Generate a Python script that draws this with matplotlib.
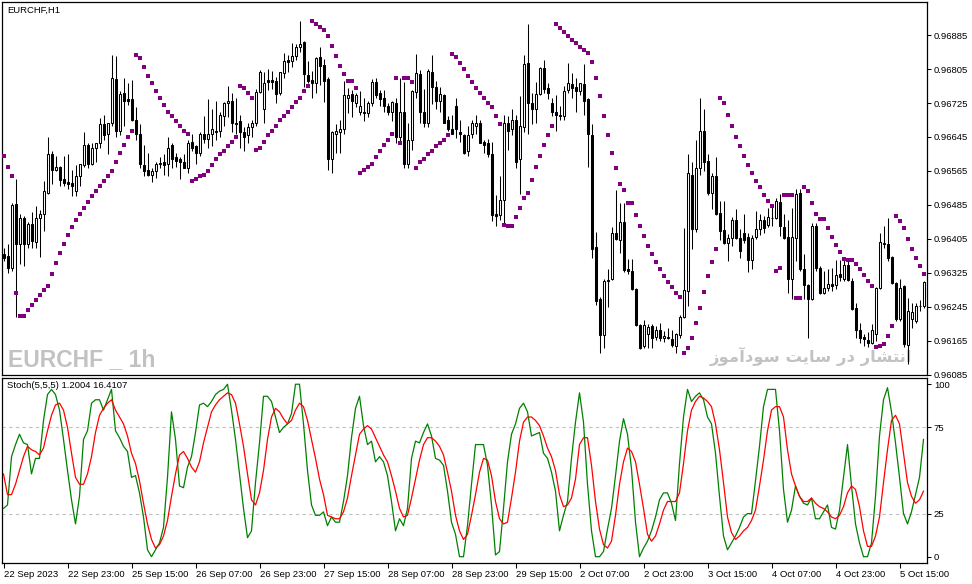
import matplotlib
matplotlib.use("Agg")
import matplotlib.pyplot as plt
from matplotlib import font_manager as fm
import numpy as np

# ---------------- data (prices in points: price * 1e5) ----------------
opens = [
    96369, 96365, 96336, 96488, 96393, 96455, 96393, 96440, 96398, 96455,
    96464, 96514, 96604, 96568, 96575, 96547, 96540, 96537, 96518, 96554,
    96580, 96625, 96582, 96620, 96630, 96675, 96653, 96679, 96781, 96658,
    96748, 96734, 96734, 96686, 96653, 96580, 96568, 96556, 96566, 96582,
    96585, 96582, 96627, 96597, 96592, 96585, 96573, 96634, 96623, 96608,
    96653, 96641, 96651, 96660, 96658, 96694, 96724, 96731, 96679, 96682,
    96656, 96649, 96668, 96679, 96750, 96710, 96779, 96779, 96776, 96748,
    96795, 96826, 96824, 96836, 96857, 96869, 96791, 96779, 96772, 96833,
    96814, 96781, 96594, 96653, 96656, 96663, 96738, 96746, 96724, 96703,
    96705, 96701, 96724, 96774, 96748, 96738, 96717, 96703, 96724, 96646,
    96705, 96582, 96637, 96750, 96793, 96703, 96679, 96798, 96762, 96729,
    96743, 96684, 96663, 96717, 96656, 96649, 96613, 96651, 96672, 96679,
    96634, 96630, 96604, 96464, 96462, 96497, 96679, 96663, 96686, 96592,
    96668, 96819, 96724, 96712, 96746, 96807, 96760, 96724, 96703, 96696,
    96694, 96755, 96769, 96762, 96753, 96769, 96734, 96649, 96386, 96263,
    96178, 96306, 96310, 96419, 96403, 96445, 96334, 96329, 96287, 96201,
    96152, 96180, 96199, 96173, 96190, 96171, 96173, 96168, 96152, 96178,
    96220, 96282, 96556, 96429, 96573, 96660, 96589, 96514, 96552, 96466,
    96426, 96395, 96407, 96450, 96407, 96419, 96410, 96355, 96410, 96429,
    96450, 96438, 96455, 96455, 96492, 96433, 96410, 96310, 96407, 96514,
    96334, 96296, 96263, 96436, 96336, 96277, 96289, 96298, 96296, 96322,
    96310, 96343, 96305, 96242, 96190, 96173, 96166, 96159, 96180, 96289,
    96393, 96393, 96362, 96301, 96216, 96294, 96154, 96216, 96211, 96246,
    96246,
]
highs = [
    96384, 96393, 96490, 96547, 96464, 96458, 96445, 96469, 96483, 96473,
    96542, 96646, 96611, 96601, 96577, 96601, 96604, 96568, 96578, 96582,
    96656, 96632, 96630, 96632, 96689, 96696, 96679, 96838, 96836, 96753,
    96783, 96772, 96779, 96715, 96675, 96625, 96608, 96571, 96587, 96597,
    96604, 96646, 96630, 96608, 96597, 96606, 96637, 96651, 96625, 96656,
    96694, 96734, 96712, 96731, 96705, 96727, 96765, 96748, 96738, 96696,
    96668, 96679, 96684, 96757, 96802, 96798, 96805, 96800, 96786, 96798,
    96843, 96838, 96866, 96864, 96918, 96871, 96824, 96800, 96833, 96857,
    96828, 96786, 96658, 96675, 96684, 96776, 96760, 96755, 96748, 96753,
    96736, 96729, 96781, 96783, 96755, 96755, 96724, 96731, 96736, 96783,
    96774, 96677, 96755, 96840, 96802, 96757, 96805, 96838, 96776, 96762,
    96746, 96694, 96698, 96736, 96686, 96653, 96672, 96686, 96698, 96684,
    96639, 96641, 96634, 96509, 96552, 96696, 96694, 96712, 96696, 96741,
    96838, 96911, 96748, 96774, 96809, 96826, 96772, 96738, 96743, 96717,
    96765, 96819, 96795, 96783, 96772, 96817, 96736, 96675, 96421, 96268,
    96310, 96334, 96433, 96521, 96490, 96490, 96358, 96358, 96289, 96203,
    96213, 96204, 96203, 96199, 96206, 96187, 96194, 96190, 96183, 96225,
    96431, 96604, 96585, 96639, 96736, 96712, 96604, 96559, 96597, 96495,
    96495, 96417, 96457, 96476, 96429, 96464, 96419, 96414, 96471, 96464,
    96459, 96478, 96488, 96502, 96511, 96464, 96450, 96478, 96523, 96523,
    96369, 96298, 96443, 96443, 96341, 96329, 96334, 96336, 96355, 96355,
    96360, 96353, 96313, 96253, 96206, 96180, 96185, 96204, 96291, 96419,
    96436, 96455, 96365, 96303, 96310, 96296, 96265, 96253, 96253, 96261,
    96305,
]
lows = [
    96353, 96324, 96329, 96220, 96346, 96341, 96384, 96384, 96384, 96362,
    96424, 96511, 96535, 96566, 96530, 96530, 96523, 96507, 96507, 96530,
    96575, 96571, 96580, 96587, 96620, 96639, 96604, 96672, 96646, 96649,
    96670, 96720, 96682, 96637, 96573, 96552, 96552, 96540, 96549, 96571,
    96556, 96552, 96573, 96575, 96547, 96571, 96561, 96613, 96582, 96601,
    96630, 96620, 96623, 96637, 96644, 96672, 96691, 96656, 96653, 96620,
    96613, 96630, 96644, 96672, 96748, 96677, 96755, 96757, 96724, 96743,
    96783, 96798, 96809, 96826, 96845, 96762, 96772, 96736, 96748, 96767,
    96727, 96568, 96559, 96608, 96608, 96653, 96701, 96691, 96715, 96698,
    96682, 96691, 96717, 96738, 96717, 96703, 96696, 96682, 96630, 96634,
    96573, 96571, 96615, 96736, 96677, 96668, 96668, 96722, 96712, 96703,
    96677, 96660, 96651, 96642, 96634, 96606, 96601, 96642, 96653, 96630,
    96608, 96597, 96448, 96436, 96450, 96443, 96615, 96649, 96571, 96511,
    96656, 96651, 96675, 96679, 96743, 96748, 96734, 96694, 96660, 96686,
    96686, 96748, 96738, 96703, 96743, 96698, 96575, 96360, 96249, 96135,
    96147, 96244, 96308, 96403, 96372, 96327, 96322, 96284, 96199, 96145,
    96147, 96147, 96147, 96166, 96164, 96161, 96168, 96149, 96135, 96171,
    96218, 96246, 96381, 96421, 96556, 96566, 96509, 96476, 96462, 96403,
    96393, 96353, 96388, 96405, 96360, 96395, 96327, 96334, 96405, 96414,
    96419, 96433, 96436, 96452, 96412, 96405, 96277, 96263, 96353, 96329,
    96263, 96171, 96261, 96329, 96275, 96275, 96282, 96282, 96287, 96305,
    96305, 96305, 96237, 96171, 96159, 96152, 96149, 96156, 96164, 96287,
    96384, 96353, 96298, 96211, 96211, 96149, 96109, 96194, 96206, 96235,
    96242,
]
closes = [
    96360, 96336, 96485, 96393, 96455, 96393, 96440, 96400, 96455, 96464,
    96518, 96604, 96568, 96575, 96544, 96537, 96533, 96530, 96554, 96582,
    96625, 96582, 96620, 96630, 96675, 96649, 96677, 96783, 96658, 96746,
    96729, 96729, 96686, 96653, 96582, 96566, 96556, 96566, 96582, 96583,
    96580, 96620, 96592, 96589, 96585, 96573, 96632, 96620, 96608, 96653,
    96641, 96651, 96665, 96656, 96698, 96724, 96731, 96677, 96675, 96656,
    96646, 96668, 96679, 96750, 96798, 96772, 96774, 96774, 96746, 96798,
    96824, 96821, 96836, 96857, 96864, 96793, 96776, 96772, 96831, 96812,
    96776, 96592, 96656, 96660, 96663, 96743, 96743, 96729, 96743, 96717,
    96701, 96724, 96774, 96743, 96734, 96717, 96703, 96727, 96644, 96705,
    96582, 96639, 96753, 96795, 96703, 96679, 96800, 96762, 96729, 96746,
    96679, 96663, 96653, 96663, 96651, 96608, 96649, 96677, 96679, 96632,
    96625, 96606, 96462, 96459, 96497, 96679, 96658, 96686, 96587, 96672,
    96817, 96724, 96712, 96746, 96807, 96757, 96748, 96703, 96696, 96695,
    96753, 96772, 96760, 96753, 96772, 96729, 96651, 96381, 96258, 96178,
    96306, 96308, 96419, 96405, 96445, 96332, 96329, 96287, 96201, 96147,
    96201, 96197, 96171, 96190, 96171, 96175, 96171, 96154, 96180, 96220,
    96284, 96559, 96429, 96573, 96660, 96585, 96514, 96554, 96464, 96424,
    96395, 96407, 96450, 96407, 96377, 96403, 96355, 96407, 96429, 96450,
    96431, 96457, 96454, 96495, 96436, 96407, 96310, 96410, 96511, 96334,
    96296, 96263, 96436, 96336, 96277, 96289, 96298, 96294, 96320, 96315,
    96343, 96308, 96239, 96190, 96171, 96168, 96159, 96190, 96289, 96398,
    96395, 96360, 96301, 96216, 96289, 96156, 96235, 96232, 96246, 96247,
    96303,
]
sar = [
    96601, 96575, 96552, 96277, 96223, 96223, 96237, 96249, 96261, 96272,
    96284, 96294, 96322, 96348, 96372, 96393, 96414, 96433, 96450, 96464,
    96478, 96492, 96507, 96518, 96530, 96542, 96554, 96566, 96587, 96608,
    96625, 96644, 96658, 96838, 96831, 96809, 96788, 96772, 96753, 96736,
    96720, 96705, 96694, 96682, 96670, 96660, 96651, 96542, 96547, 96552,
    96556, 96566, 96580, 96592, 96604, 96613, 96623, 96634, 96646, 96765,
    96760, 96748, 96736, 96615, 96620, 96634, 96649, 96660, 96672, 96684,
    96694, 96705, 96715, 96727, 96738, 96753, 96765, 96918, 96911, 96904,
    96897, 96883, 96859, 96836, 96812, 96793, 96776, 96776, 96760, 96559,
    96568, 96575, 96582, 96599, 96613, 96627, 96639, 96651, 96783, 96632,
    96783, 96783, 96774, 96573, 96585, 96594, 96604, 96613, 96623, 96632,
    96639, 96649, 96840, 96833, 96819, 96805, 96788, 96774, 96760, 96748,
    96736, 96724, 96715, 96694, 96675, 96438, 96436, 96436, 96457, 96478,
    96500, 96514, 96544, 96575, 96601, 96625, 96649, 96670, 96911, 96902,
    96892, 96883, 96873, 96866, 96857, 96850, 96843, 96821, 96783, 96741,
    96694, 96649, 96608, 96571, 96535, 96521, 96490, 96490, 96462, 96436,
    96412, 96388, 96369, 96350, 96334, 96317, 96303, 96291, 96277, 96268,
    96135, 96147, 96171, 96206, 96242, 96279, 96317, 96350, 96381, 96736,
    96724, 96698, 96670, 96644, 96623, 96601, 96580, 96561, 96542, 96526,
    96509, 96495, 96483, 96329, 96336, 96509, 96509, 96509, 96265, 96265,
    96526, 96518, 96490, 96464, 96452, 96452, 96431, 96410, 96391, 96374,
    96358, 96355, 96355, 96346, 96334, 96320, 96305, 96294, 96149, 96152,
    96156, 96175, 96199, 96459, 96448, 96431, 96405, 96381, 96360, 96341,
    96322,
]
stoch_k = [
    28, 30, 58, 65, 71, 66, 65, 48, 57, 57,
    79, 94, 97, 94, 85, 68, 50, 33, 19, 35,
    68, 73, 89, 91, 91, 85, 91, 97, 73, 69,
    64, 61, 46, 47, 37, 23, 4, 0, 4, 8,
    17, 46, 84, 68, 41, 40, 52, 58, 72, 88,
    89, 87, 90, 94, 96, 97, 100, 85, 68, 48,
    28, 11, 15, 43, 66, 93, 93, 90, 81, 72,
    75, 77, 83, 100, 100, 77, 50, 30, 24, 24,
    26, 18, 23, 20, 20, 32, 47, 69, 86, 93,
    76, 65, 67, 55, 58, 55, 47, 32, 15, 22,
    18, 28, 57, 67, 66, 72, 77, 70, 57, 56,
    53, 38, 20, 13, 0, 0, 18, 42, 65, 65,
    65, 53, 30, 1, 3, 28, 55, 71, 77, 86,
    89, 84, 70, 71, 72, 60, 57, 49, 38, 15,
    24, 32, 57, 78, 95, 78, 42, 15, 0, 0,
    3, 16, 28, 47, 67, 80, 71, 51, 20, 0,
    5, 9, 15, 23, 33, 37, 37, 31, 21, 54,
    81, 97, 90, 93, 95, 91, 81, 77, 60, 35,
    12, 4, 8, 12, 17, 23, 25, 25, 44, 64,
    87, 97, 97, 97, 73, 39, 20, 27, 41, 35,
    31, 30, 34, 22, 22, 26, 30, 17, 16, 27,
    46, 65, 41, 19, 8, 0, 0, 8, 35, 70,
    91, 98, 84, 66, 46, 25, 19, 26, 36, 46,
    68,
]
stoch_d = [
    48, 36, 36, 42, 50, 58, 64, 62, 61, 59,
    63, 73, 82, 88, 89, 85, 75, 60, 46, 42,
    42, 48, 58, 72, 82, 86, 89, 91, 85, 81,
    77, 70, 60, 54, 44, 31, 19, 10, 5, 7,
    12, 21, 35, 48, 59, 61, 57, 52, 49, 55,
    66, 75, 84, 88, 91, 93, 95, 94, 89, 77,
    64, 48, 33, 30, 37, 50, 68, 81, 86, 84,
    80, 77, 79, 85, 89, 87, 79, 68, 57, 45,
    36, 24, 23, 22, 22, 26, 34, 47, 59, 71,
    74, 76, 74, 69, 64, 59, 55, 47, 38, 28,
    23, 24, 34, 45, 56, 65, 69, 69, 67, 64,
    59, 49, 38, 24, 15, 10, 13, 24, 36, 49,
    57, 56, 47, 32, 22, 19, 20, 34, 49, 67,
    78, 81, 81, 79, 76, 70, 63, 58, 50, 36,
    29, 30, 34, 45, 65, 69, 69, 53, 32, 16,
    7, 5, 9, 24, 42, 55, 63, 61, 55, 42,
    28, 13, 9, 12, 19, 27, 32, 32, 32, 37,
    54, 73, 85, 90, 93, 92, 90, 87, 77, 62,
    43, 23, 14, 10, 12, 15, 17, 21, 27, 41,
    56, 73, 85, 87, 87, 81, 62, 48, 41, 35,
    32, 32, 34, 31, 29, 28, 26, 23, 22, 24,
    29, 37, 41, 39, 29, 15, 6, 6, 12, 23,
    43, 62, 79, 82, 77, 60, 43, 35, 31, 33,
    38,
]
price_ticks = [0.96885, 0.96805, 0.96725, 0.96645, 0.96565, 0.96485,
               0.96405, 0.96325, 0.96245, 0.96165, 0.96085]
stoch_ticks = [0, 25, 75, 100]
stoch_levels = [25, 75]
time_tick_bars = [0, 16, 32, 48, 64, 80, 96, 112, 128, 144, 160, 176, 192, 208, 224]
time_labels = ["22 Sep 2023", "22 Sep 23:00", "25 Sep 15:00", "26 Sep 07:00",
               "26 Sep 23:00", "27 Sep 15:00", "28 Sep 07:00", "28 Sep 23:00",
               "29 Sep 15:00", "2 Oct 07:00", "2 Oct 23:00", "3 Oct 15:00",
               "4 Oct 07:00", "4 Oct 23:00", "5 Oct 15:00"]
chart_title = "EURCHF,H1"
stoch_title = "Stoch(5,5,5) 1.2004 16.4107"
watermark_left = "EURCHF _ 1h"
# Persian: "انتشار در سایت سودآموز" written in shaped (presentation) forms, visual order
watermark_right = ("\uFEAF\uFEEE\uFEE3\uFE81\uFEA9\uFEEE\uFEB3 "
                   "\uFE96\uFBFE\uFE8E\uFEB3 \uFEAD\uFEA9 "
                   "\uFEAD\uFE8E\uFEB8\uFE98\uFEE7\uFE8D")


def has_font(name):
    try:
        fm.findfont(fm.FontProperties(family=name), fallback_to_default=False)
        return True
    except Exception:
        return False


# ---------------- figure ----------------
plt.rcParams['font.family'] = ['Liberation Sans', 'DejaVu Sans']
W, H = 972, 584
fig = plt.figure(figsize=(W / 100, H / 100), dpi=100)
fig.patch.set_facecolor('white')

ax1 = fig.add_axes([2 / W, 1 - 374.5 / H, 925 / W, 372.5 / H])
ax2 = fig.add_axes([2 / W, 1 - 563 / H, 925 / W, 185.5 / H])

o = np.array(opens) / 1e5
h = np.array(highs) / 1e5
l = np.array(lows) / 1e5
c = np.array(closes) / 1e5
x = np.arange(len(c))
up = c >= o

ax1.vlines(x, l, h, colors='black', linewidth=0.75, zorder=2)
body_bottom = np.minimum(o, c)
body_h = np.maximum(np.abs(c - o), 0.3e-5)
ax1.bar(x, body_h, bottom=body_bottom, width=0.5,
        color=['white' if u else 'black' for u in up],
        edgecolor='black', linewidth=0.75, zorder=3)
ax1.plot(x, np.array(sar) / 1e5, linestyle='none', marker='s', ms=2.3, mew=0,
         color='#800080', zorder=4)

ax1.set_xlim(-0.375, 230.875)
ax1.set_ylim(0.960879, 0.969633)
ax1.set_xticks([])
ax1.yaxis.tick_right()
ax1.set_yticks(price_ticks)
ax1.set_yticklabels([f"{v:.5f}" for v in price_ticks])
ax1.tick_params(axis='y', direction='out', length=3, width=0.75, pad=2,
                labelsize=6.8, colors='black')
for s in ax1.spines.values():
    s.set_linewidth(0.9)
    s.set_color('black')

ax1.text(7 / W, 1 - 10 / H, chart_title, transform=fig.transFigure,
         fontsize=6.8, va='center', ha='left')

if has_font('Liberation Sans Narrow'):
    wm_family, wm_size = ['Liberation Sans Narrow'], 21
else:
    wm_family, wm_size = ['Liberation Sans', 'DejaVu Sans'], 16.5
ax1.text(8 / W, 1 - 366 / H, watermark_left, transform=fig.transFigure,
         fontsize=wm_size, fontweight='bold', color='#c2c2c2', va='baseline', ha='left',
         family=wm_family, zorder=1, clip_on=False)
ax1.text(811 / W, 1 - 356 / H, watermark_right, transform=fig.transFigure,
         fontsize=11.8, fontweight='bold', color='#c2c2c2', va='center', ha='center',
         family=['DejaVu Sans'], zorder=1, clip_on=False)

# ---------------- stochastic ----------------
for lev in stoch_levels:
    ax2.axhline(lev, color='#c0c0c0', linewidth=0.8, linestyle=(0, (3, 3)), zorder=1)
ax2.plot(x, stoch_k, color='#008000', linewidth=0.9, zorder=3)
ax2.plot(x, stoch_d, color='#ff0000', linewidth=0.9, zorder=3)
ax2.set_xlim(-0.375, 230.875)
ax2.set_ylim(-3.65, 103.9)
ax2.yaxis.tick_right()
ax2.set_yticks(stoch_ticks)
ax2.set_yticklabels([str(v) for v in stoch_ticks])
ax2.tick_params(axis='y', direction='out', length=3, width=0.75, pad=2,
                labelsize=6.8, colors='black')
ax2.set_xticks(time_tick_bars)
ax2.set_xticklabels(time_labels, ha='left')
ax2.tick_params(axis='x', direction='out', length=3.5, width=0.75, pad=1.2,
                labelsize=6.8, colors='black')
for s in ax2.spines.values():
    s.set_linewidth(0.9)
    s.set_color('black')
ax2.text(7 / W, 1 - 386 / H, stoch_title, transform=fig.transFigure,
         fontsize=6.8, va='center', ha='left')

fig.savefig('out.png', dpi=100)
